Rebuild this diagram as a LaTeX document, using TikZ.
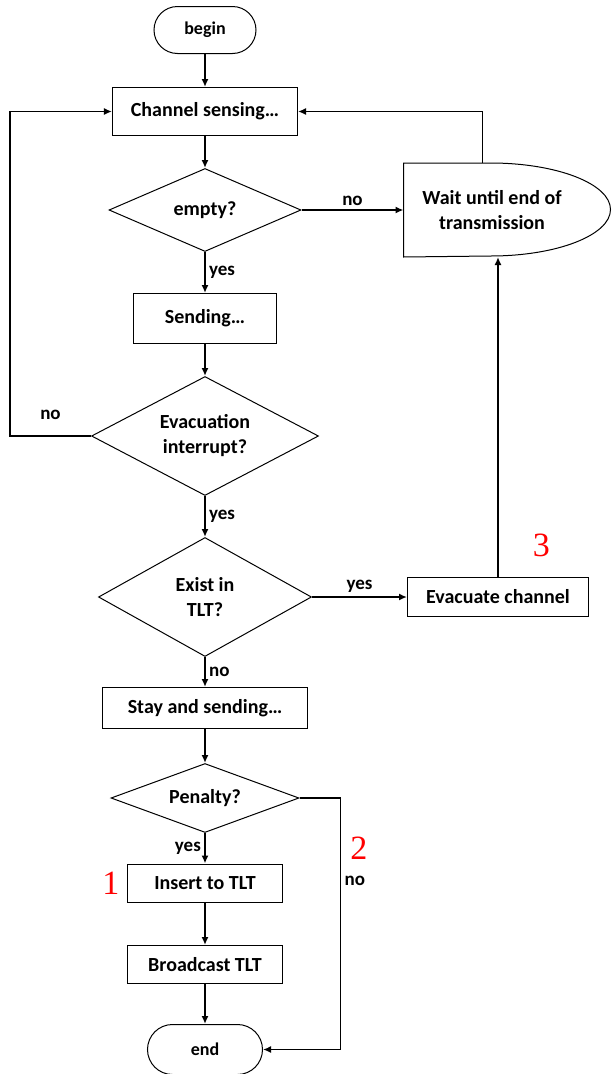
\documentclass[tikz,border=0pt]{standalone}
\usepackage{fontspec}
\setmainfont{Carlito}
\newfontfamily\markfont{Liberation Serif}
\usetikzlibrary{positioning, shapes.geometric, shapes.misc, arrows.meta, calc}

\begin{document}
\begin{tikzpicture}[
        base/.style={draw, line width=1pt, font=\fontsize{20pt}{25pt}\selectfont\bfseries, align=center, inner sep=2pt},
        block/.style={base, rectangle},
        decision/.style={base, diamond, aspect=2, inner sep=0pt},
        terminal/.style={base, rounded rectangle, minimum width=106pt, minimum height=47pt, font=\fontsize{18pt}{22pt}\selectfont\bfseries},
        flow/.style={-{Latex[length=8pt, width=7pt]}, line width=1.6pt},
        lbl/.style={font=\fontsize{19pt}{22pt}\selectfont\bfseries},
        redmark/.style={text=red, inner sep=1pt, font=\markfont\fontsize{34pt}{34pt}\selectfont}
      ]
        \useasboundingbox (-205pt,30pt) rectangle (406pt,-1044pt);

        % Main column
        \node[terminal] (start) at (0,0) {begin};
        \node[block, minimum width=185pt, minimum height=48pt, below=33pt of start] (sense) {Channel sensing…};
        \node[decision, minimum width=192pt, minimum height=83pt, below=32pt of sense] (empty) {empty?};
        \node[block, minimum width=142pt, minimum height=50pt, below=41pt of empty] (send) {Sending…};
        \node[decision, minimum width=227pt, minimum height=119pt, below=32pt of send] (evac) {Evacuation\\interrupt?};
        \node[decision, minimum width=213pt, minimum height=119pt, below=41pt of evac] (exist) {Exist in\\TLT?};
        \node[block, minimum width=204pt, minimum height=41pt, below=30pt of exist] (stay) {Stay and sending…};
        \node[decision, minimum width=188pt, minimum height=69pt, below=34pt of stay] (pen) {Penalty?};
        \node[block, minimum width=154pt, minimum height=38pt, below=30.5pt of pen] (ins) {Insert to TLT};
        \node[block, minimum width=154pt, minimum height=38pt, below=42.5pt of ins] (bcast) {Broadcast TLT};
        \node[terminal, minimum width=119pt, minimum height=50pt, below=40pt of bcast] (stop) {end};

        % Right column
        \node[base, draw=none, minimum width=176pt, minimum height=93pt, right=102pt of empty] (wait) {Wait until end of\\transmission};
        \draw[line width=1pt] (wait.north west) -- ++(87pt,0)
          arc[start angle=90, end angle=-90, x radius=120pt, y radius=46.5pt] -- (wait.south west) -- cycle;
        \node[block, minimum width=181pt, minimum height=39pt, right=95pt of exist] (evcu) {Evacuate channel};
        \coordinate (waitout) at ($(wait.north west)+(79pt,0)$);

        % Red markers
        \node[redmark, left=7pt of ins] (one) {1};

        % Connectors
        \draw[flow] (start) -- (sense);
        \draw[flow] (sense) -- (empty);
        \draw[flow] (empty) -- node[lbl, right] {yes} (send);
        \draw[flow] (empty.east) -- node[lbl, above] {no} (empty.east -| wait.west);
        \draw[flow] (waitout) |- (sense.east);
        \draw[flow] (send) -- (evac);
        \draw[flow] (evac.west) -- node[lbl, above=12pt] {no} ++(-81pt,0) |- (sense.west);
        \draw[flow] (evac) -- node[lbl, right] {yes} (exist);
        \draw[flow] (exist.east) -- node[lbl, above] {yes} (exist.east -| evcu.west);
        \draw[flow] (evcu.north) -- node[redmark, right=33pt, pos=.1] (three) {3} (evcu.north |- wait.south);
        \draw[flow] (exist) -- node[lbl, right] {no} (stay);
        \draw[flow] (stay) -- (pen);
        \draw[flow] (pen) -- node[lbl, left] {yes} (ins);
        \draw[flow] (pen.east) -- ++(41pt,0) |- node[redmark, right=8pt, pos=.1] (two) {2}
          node[lbl, right, pos=.165] {no} (stop.east);
        \draw[flow] (ins) -- (bcast);
        \draw[flow] (bcast) -- (stop);
      \end{tikzpicture}
\end{document}
